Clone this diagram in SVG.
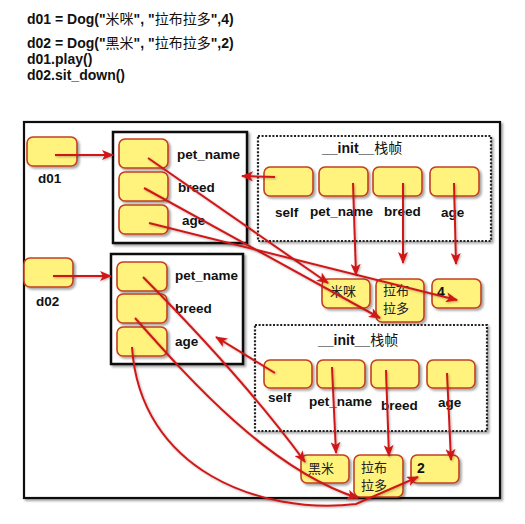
<svg xmlns="http://www.w3.org/2000/svg" width="525" height="524" viewBox="0 0 525 524">
<defs>
<filter id="sh" x="-10%" y="-10%" width="130%" height="130%"><feDropShadow dx="2" dy="2" stdDeviation="1.2" flood-color="#000" flood-opacity="0.35"/></filter>
<filter id="lsh" filterUnits="userSpaceOnUse" x="0" y="0" width="525" height="524"><feDropShadow dx="1" dy="1" stdDeviation="0.8" flood-color="#000" flood-opacity="0.3"/></filter>
<marker id="ah" viewBox="0 0 12 10" refX="11" refY="5" markerWidth="13" markerHeight="10" markerUnits="userSpaceOnUse" orient="auto"><path d="M0,0 L12,5 L0,10 L3,5 Z" fill="#D01818"/></marker>
</defs>
<style>
.slot{fill:#FFF27D;stroke:#C2401F;stroke-width:1.6;filter:url(#sh);}
.obj{fill:#fff;stroke:#111;stroke-width:2.5;filter:url(#sh);}
.frm{fill:#fff;stroke:#222;stroke-width:2.2;stroke-dasharray:2 1.6;filter:url(#sh);}
.outer{fill:#fff;stroke:#111;stroke-width:2.2;filter:url(#sh);}
.lbl{font-family:"Liberation Sans",Arial,sans-serif;font-weight:bold;font-size:13.5px;fill:#111;}
.code{font-family:"Liberation Sans",Arial,"Noto Sans CJK SC",sans-serif;font-weight:bold;font-size:14px;fill:#111;}
.cjk{font-family:"Noto Sans CJK SC",sans-serif;font-weight:normal;}
.val{font-family:"Noto Sans CJK SC",sans-serif;font-size:13px;fill:#222;}
.num{font-family:"Liberation Sans",Arial,sans-serif;font-weight:bold;font-size:14px;fill:#111;}
.con{fill:none;stroke:#D01818;stroke-width:2;marker-end:url(#ah);filter:url(#lsh);}
</style>
<g id="code">
<text class="code" x="27" y="24">d01 = Dog("<tspan class="cjk">米咪</tspan>", "<tspan class="cjk">拉布拉多</tspan>",4)</text>
<text class="code" x="27" y="48">d02 = Dog("<tspan class="cjk">黑米</tspan>", "<tspan class="cjk">拉布拉多</tspan>",2)</text>
<text class="code" x="27" y="64">d01.play()</text>
<text class="code" x="27" y="80">d02.sit_down()</text>
</g>
<g id="outer-frame"><rect class="outer" x="24" y="122" width="476" height="376"/></g>
<g id="d01">
<rect class="slot" x="27" y="137" width="50" height="29" rx="6"/>
<text class="lbl" x="38" y="183">d01</text>
</g>
<g id="d02">
<rect class="slot" x="24" y="258" width="49" height="29" rx="6"/>
<text class="lbl" x="36" y="306">d02</text>
</g>
<g id="dog1">
<rect class="obj" x="113" y="132" width="134" height="111"/>
<rect class="slot" x="119" y="139" width="49" height="29" rx="6"/>
<rect class="slot" x="119" y="172" width="49" height="29" rx="6"/>
<rect class="slot" x="119" y="205" width="49" height="29" rx="6"/>
<text class="lbl" x="177" y="159">pet_name</text>
<text class="lbl" x="178" y="192">breed</text>
<text class="lbl" x="182" y="225">age</text>
</g>
<g id="dog2">
<rect class="obj" x="111" y="254" width="132" height="110"/>
<rect class="slot" x="117" y="262" width="50" height="29" rx="6"/>
<rect class="slot" x="117" y="294" width="50" height="29" rx="6"/>
<rect class="slot" x="117" y="327" width="50" height="29" rx="6"/>
<text class="lbl" x="175" y="280">pet_name</text>
<text class="lbl" x="175" y="313">breed</text>
<text class="lbl" x="175" y="346">age</text>
</g>
<g id="init-frame-1">
<rect class="frm" x="258" y="136" width="233" height="105"/>
<text class="lbl" x="322" y="153" style="font-size:14px">__init__<tspan class="cjk">栈帧</tspan></text>
<rect class="slot" x="264" y="167" width="49" height="29" rx="6"/>
<rect class="slot" x="319" y="167" width="49" height="29" rx="6"/>
<rect class="slot" x="373" y="167" width="49" height="29" rx="6"/>
<rect class="slot" x="430" y="167" width="49" height="29" rx="6"/>
<text class="lbl" x="275" y="217">self</text>
<text class="lbl" x="310" y="216">pet_name</text>
<text class="lbl" x="384" y="216">breed</text>
<text class="lbl" x="441" y="217">age</text>
</g>
<g id="init-frame-2">
<rect class="frm" x="255" y="325" width="232" height="106"/>
<text class="lbl" x="318" y="345" style="font-size:14px">__init__<tspan class="cjk">栈帧</tspan></text>
<rect class="slot" x="264" y="360" width="48" height="28" rx="6"/>
<rect class="slot" x="317" y="360" width="48" height="28" rx="6"/>
<rect class="slot" x="371" y="360" width="48" height="28" rx="6"/>
<rect class="slot" x="427" y="360" width="48" height="28" rx="6"/>
<text class="lbl" x="268" y="402">self</text>
<text class="lbl" x="309" y="406">pet_name</text>
<text class="lbl" x="381" y="410">breed</text>
<text class="lbl" x="438" y="407">age</text>
</g>
<g id="values-1">
<rect class="slot" x="322" y="279" width="48" height="29" rx="6"/>
<text class="val" x="330" y="296">米咪</text>
<rect class="slot" x="376" y="279" width="48" height="43" rx="6"/>
<text class="val" x="383" y="295">拉布</text>
<text class="val" x="383" y="313">拉多</text>
<rect class="slot" x="432" y="279" width="49" height="29" rx="6"/>
<text class="num" x="437" y="297">4</text>
</g>
<g id="values-2">
<rect class="slot" x="301" y="455" width="48" height="28" rx="6"/>
<text class="val" x="308" y="473">黑米</text>
<rect class="slot" x="354" y="455" width="49" height="42" rx="6"/>
<text class="val" x="361" y="472">拉布</text>
<text class="val" x="361" y="490">拉多</text>
<rect class="slot" x="411" y="455" width="48" height="28" rx="6"/>
<text class="num" x="417" y="473">2</text>
</g>
<g id="connectors">
<path class="con" d="M55,155 L113,155"/>
<path class="con" d="M53,276 L111,276"/>
<path class="con" d="M275,177 L242,176"/>
<path class="con" d="M148,158 L328,283"/>
<path class="con" d="M144,188 L380,318"/>
<path class="con" d="M149,223 L457,300"/>
<path class="con" d="M353,183 L356,275"/>
<path class="con" d="M403,183 L403,263"/>
<path class="con" d="M454,183 L456,264"/>
<path class="con" d="M275,373 L216,337"/>
<path class="con" d="M332,367 L336,453"/>
<path class="con" d="M386,370 L389,456"/>
<path class="con" d="M447,373 L451,460"/>
<path class="con" d="M143,277 Q245,380 305,462"/>
<path class="con" d="M135,318 C190,380 270,470 358,498"/>
<path class="con" d="M132,347 C140,470 260,515 356,504 L418,477"/>
</g>
</svg>
